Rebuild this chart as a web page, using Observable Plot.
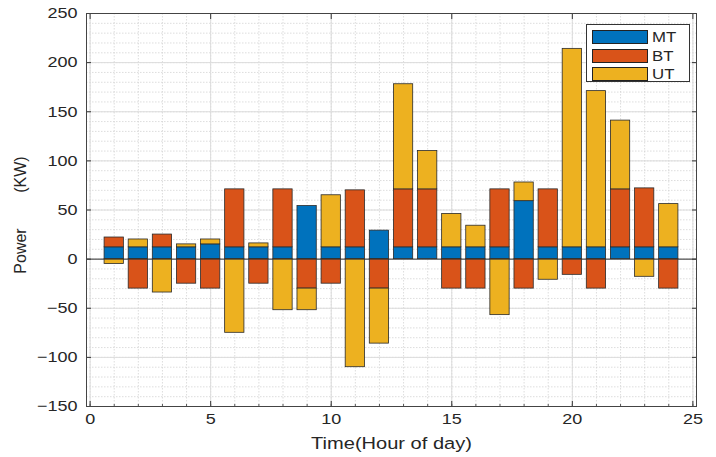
<!DOCTYPE html>
<html><head><meta charset="utf-8">
<script src="https://cdn.jsdelivr.net/npm/d3@7"></script>
<script src="https://cdn.jsdelivr.net/npm/@observablehq/plot@0.6"></script>
<style>
body{margin:0;background:#fff;font-family:"Liberation Sans",Arial,sans-serif;}
#wrap{position:relative;width:716px;height:457px;}
svg text{white-space:pre;}
#legend{position:absolute;left:586px;top:24px;width:104px;height:58px;border:1px solid #333;background:#fff;box-sizing:border-box;}
.row{position:absolute;left:5px;height:14px;}
.sw{position:absolute;left:0;top:0;width:56px;height:14px;border:1px solid #222;box-sizing:border-box;}
.lb{position:absolute;left:60px;top:-2px;font-size:15px;color:#262626;line-height:17px;transform:scaleX(1.12);transform-origin:0 0;}
</style></head><body><div id="wrap"></div>
<script>
const hours = [1,2,3,4,5,6,7,8,9,10,11,12,13,14,15,16,17,18,19,20,21,22,23,24];
const seriesNames = ["MT","BT","UT"];
const MT = [12,12,12,12,15,12,12,12,54,12,12,29,12,12,12,12,12,59,12,12,12,12,12,12];
const BT = [10,-30,13,-25,-30,59,-25,59,-30,-25,58,-30,59,59,-30,-30,59,-30,59,-16,-30,59,60,-30];
const UT = [-5,8,-34,3,5,-75,4,-52,-22,53,-110,-56,107,39,34,22,-57,19,-21,202,159,70,-18,44];
const colors = ["#0072BD","#D95319","#EDB120"];
const xTicks = [0,5,10,15,20,25];
const yTicks = [-150,-100,-50,0,50,100,150,200,250];
const xMinor = d3.range(0,26,1);
const yMinor = d3.range(-150,251,10);

const seriesValues = [MT, BT, UT];
const rows = [];
hours.forEach((h,i)=>{
  seriesNames.forEach((s,j)=>rows.push({hour:h, series:s, value:seriesValues[j][i]}));
});

const ink = "#262626";
const chart = Plot.plot({
  width:716, height:457,
  marginLeft:86, marginRight:20, marginTop:13, marginBottom:51,
  x:{domain:[-0.15,25.15]},
  y:{domain:[-150,250]},
  color:{domain:seriesNames, range:colors},
  style:{fontFamily:"'Liberation Sans', Arial, sans-serif", fontSize:"15px", color:ink, background:"#fff"},
  marks:[
    Plot.gridX(xMinor, {stroke:"#cfcfcf", strokeOpacity:1, strokeDasharray:"1.5,1.5", strokeWidth:0.7}),
    Plot.gridY(yMinor, {stroke:"#cfcfcf", strokeOpacity:1, strokeDasharray:"1.5,1.5", strokeWidth:0.7}),
    Plot.gridX(xTicks, {stroke:"#dcdcdc", strokeOpacity:1}),
    Plot.gridY(yTicks, {stroke:"#dcdcdc", strokeOpacity:1}),
    Plot.rectY(rows, Plot.stackY({x1:d=>d.hour-0.4, x2:d=>d.hour+0.4, y:"value", fill:"series", stroke:"#2a2a2a", strokeWidth:0.8})),
    Plot.ruleY([0], {stroke:"#333", strokeWidth:1}),
    Plot.axisX(xTicks, {anchor:"bottom", tickSize:-5, tickPadding:12, stroke:"#333", fill:ink, fontSize:15,
      label:"Time(Hour of day)", labelAnchor:"center", labelOffset:42, labelArrow:"none"}),
    Plot.axisX(xMinor, {anchor:"bottom", tickSize:-2, stroke:"#555", fill:"none"}),
    Plot.axisX(xTicks, {anchor:"top", tickSize:-5, stroke:"#333", fill:"none"}),
    Plot.axisY(yTicks, {anchor:"left", tickSize:-5, tickPadding:14, stroke:"#333", fill:ink, fontSize:15,
      label:"Power        (KW)", labelAnchor:"center", labelOffset:72, labelArrow:"none"}),
    Plot.axisY(yTicks, {anchor:"right", tickSize:-5, stroke:"#333", fill:"none"}),
    Plot.frame({stroke:"#444"})
  ]
});
const wrap = document.getElementById("wrap");
wrap.appendChild(chart);
const svg = chart.tagName.toLowerCase()==="svg" ? chart : chart.querySelector("svg");

// horizontal stretch of text to match the reference's wide glyphs
svg.querySelectorAll("text").forEach(t=>{
  const content = t.textContent;
  const tr = t.getAttribute("transform") || "";
  const x = +t.getAttribute("x") || 0, y = +t.getAttribute("y") || 0;
  if (content.startsWith("Time")) {
    t.setAttribute("font-size", 17);
    t.setAttribute("transform", `${tr} translate(${x},${y}) scale(1.18,1) translate(${-x},${-y})`);
  } else if (content.startsWith("Power")) {
    t.setAttribute("font-size", 16);
    t.setAttribute("transform", `translate(0,5) ${tr}`);
  } else {
    t.setAttribute("transform", `${tr} translate(${x},${y}) scale(1.2,1) translate(${-x},${-y})`);
  }
});

const legend = document.createElement("div");
legend.id = "legend";
seriesNames.forEach((s,i)=>{
  const r = document.createElement("div");
  r.className="row"; r.style.top = (5+i*18.5)+"px";
  const sw = document.createElement("div"); sw.className="sw"; sw.style.background=colors[i];
  const lb = document.createElement("div"); lb.className="lb"; lb.textContent=s;
  r.appendChild(sw); r.appendChild(lb); legend.appendChild(r);
});
wrap.appendChild(legend);
</script></body></html>
